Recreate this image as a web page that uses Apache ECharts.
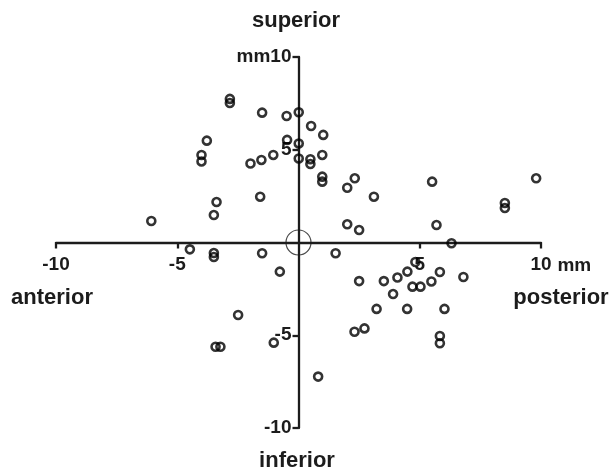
<!DOCTYPE html>
<html>
<head>
<meta charset="utf-8">
<script src="https://cdn.jsdelivr.net/npm/echarts@6/dist/echarts.min.js"></script>
<style>
html,body{margin:0;padding:0;background:#fff;}
#chart{width:612px;height:471px;}
</style>
</head>
<body>
<div id="chart"></div>
<script>
// Displacement (mm): x = anterior(-)/posterior(+), y = inferior(-)/superior(+)
var xValues = [-2.83,-2.83,-1.50,-0.49,0.01,0.52,1.02,-3.78,-0.47,0.01,
  -4.00,-4.00,-1.04,-1.53,-1.98,0.01,0.49,0.49,0.98,0.98,
  0.98,2.32,2.01,3.11,5.51,9.80,8.51,8.51,-1.58,-3.38,
  -3.49,-6.07,2.01,2.50,5.69,6.31,-4.48,-3.49,-3.49,-1.50,
  -0.77,-2.49,-3.42,-3.22,-1.02,0.81,1.53,4.82,2.50,3.52,
  4.08,4.49,5.83,6.80,5.48,4.70,5.03,3.90,3.22,4.48,
  6.02,2.31,2.72,5.83,5.83];
var yValues = [7.74,7.52,7.00,6.82,7.02,6.28,5.80,5.49,5.53,5.34,
  4.72,4.37,4.72,4.45,4.26,4.53,4.49,4.23,4.72,3.55,
  3.28,3.46,2.95,2.47,3.28,3.46,2.13,1.86,2.47,2.18,
  1.48,1.16,0.98,0.67,0.94,-0.04,-0.37,-0.57,-0.78,-0.58,
  -1.57,-3.91,-5.62,-5.62,-5.40,-7.23,-0.58,-1.05,-2.08,-2.08,
  -1.89,-1.57,-1.59,-1.86,-2.10,-2.38,-2.38,-2.78,-3.58,-3.58,
  -3.58,-4.81,-4.63,-5.04,-5.43];
var originPoint = [[0, 0]];
var xTicks = [-10, -5, 5, 10];
var yTicks = [-10, -5, 5, 10];
var axisMin = -10, axisMax = 10, axisInterval = 5;

var points = xValues.map(function (x, i) { return [x, yValues[i]]; });

var FONT = '"Liberation Sans", Arial, sans-serif';
var ink = '#1c1c1c';

var W = 612, H = 471;
var gLeft = 56, gRight = 71, gTop = 57, gBottom = 43;
// axes cross at the centre of the plotting area (value 0 on both axes)
var xAxisOffset = -(H - gTop - gBottom) / 2;
var yAxisOffset = -(W - gLeft - gRight) / 2;

var chart = echarts.init(document.getElementById('chart'), null, {renderer: 'canvas'});
chart.setOption({
  animation: false,
  backgroundColor: '#ffffff',
  grid: {left: gLeft, right: gRight, top: gTop, bottom: gBottom, containLabel: false},
  xAxis: {
    type: 'value', min: axisMin, max: axisMax, interval: axisInterval,
    position: 'bottom', offset: xAxisOffset,
    splitLine: {show: false},
    axisLine: {onZero: false, lineStyle: {color: ink, width: 2.3}},
    axisTick: {show: true, length: 6, customValues: xTicks, lineStyle: {color: ink, width: 2.3}},
    axisLabel: {customValues: xTicks, margin: 13, color: ink,
      fontFamily: FONT, fontWeight: 'bold', fontSize: 19},
    name: 'mm', nameLocation: 'end', nameGap: 14,
    nameTextStyle: {color: ink, fontFamily: FONT, fontWeight: 'bold', fontSize: 19,
      verticalAlign: 'top', padding: [14, 0, 0, 0]}
  },
  yAxis: {
    type: 'value', min: axisMin, max: axisMax, interval: axisInterval,
    position: 'left', offset: yAxisOffset,
    splitLine: {show: false},
    axisLine: {onZero: false, lineStyle: {color: ink, width: 2.3}},
    axisTick: {show: true, length: 6, customValues: yTicks, lineStyle: {color: ink, width: 2.3}},
    axisLabel: {customValues: yTicks, margin: 7, color: ink,
      fontFamily: FONT, fontWeight: 'bold', fontSize: 19,
      formatter: function (v) { return v === 10 ? 'mm10' : String(v); }}
  },
  graphic: [
    {type: 'text', x: 296, y: 21, style: {text: 'superior', fill: ink, textAlign: 'center', textVerticalAlign: 'middle', font: 'bold 22px ' + FONT}},
    {type: 'text', x: 297, y: 461, style: {text: 'inferior', fill: ink, textAlign: 'center', textVerticalAlign: 'middle', font: 'bold 22px ' + FONT}},
    {type: 'text', x: 52, y: 298, style: {text: 'anterior', fill: ink, textAlign: 'center', textVerticalAlign: 'middle', font: 'bold 22px ' + FONT}},
    {type: 'text', x: 561, y: 298, style: {text: 'posterior', fill: ink, textAlign: 'center', textVerticalAlign: 'middle', font: 'bold 22px ' + FONT}}
  ],
  series: [
    {
      type: 'scatter', data: originPoint, symbol: 'circle', symbolSize: 25,
      itemStyle: {color: 'rgba(0,0,0,0)', borderColor: ink, borderWidth: 1.2},
      silent: true, z: 3
    },
    {
      type: 'scatter', data: points, symbol: 'circle', symbolSize: 8,
      itemStyle: {color: 'rgba(0,0,0,0)', borderColor: '#000', borderWidth: 2.6},
      silent: true, z: 4
    }
  ]
});
</script>
</body>
</html>
